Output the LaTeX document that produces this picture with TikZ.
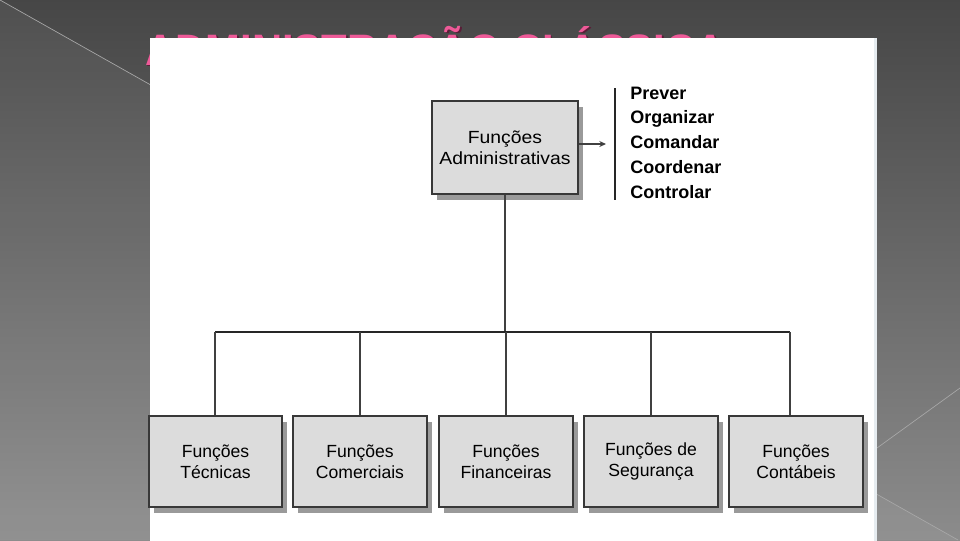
\documentclass[tikz,border=0pt]{standalone}
\usepackage{fontspec}
\setmainfont{Liberation Sans}
\usetikzlibrary{arrows.meta,calc,shadows}
\definecolor{bgtop}{HTML}{464646}
\definecolor{bgbot}{HTML}{8C8C8C}
\definecolor{titlepink}{HTML}{EE5A98}
\definecolor{titleshadow}{HTML}{5A1E38}
\definecolor{boxfill}{HTML}{DCDCDC}
\definecolor{shadowgray}{HTML}{9A9A9A}
\definecolor{edgeblue}{HTML}{E6ECF0}
\definecolor{bgline}{HTML}{A8A8A8}
\begin{document}
\begin{tikzpicture}[x=0.75pt,y=-0.75pt,
  fbox/.style={draw=black!78, line width=0.9pt, fill=boxfill,
    minimum width=#1*0.75pt, minimum height=91*0.75pt, inner sep=0pt,
    align=center, font=\fontsize{13.2}{15.5}\selectfont,
    drop shadow={shadow xshift=3.9pt, shadow yshift=-4.5pt, fill=shadowgray, opacity=1}},
  listitem/.style={anchor=base west, inner sep=0pt, font=\fontsize{13.5}{16}\selectfont\bfseries},
  conn/.style={draw=black!75, line width=1.1pt},
  bar/.style={draw=black!85, line width=1.5pt}
]
\useasboundingbox (0,0) rectangle (960,540);
% background
\shade[top color=bgtop, bottom color=bgbot] (-2,-2) rectangle (962,542);
\fill[white, opacity=0.05] (0,0) -- (958,540) -- (0,540) -- cycle;
\draw[bgline, line width=0.5pt] (0,0) -- (958,540);
\draw[bgline, line width=0.5pt] (841,474) -- (960,388);
% title (mostly hidden by the panel)
\node[anchor=base west, inner sep=0pt, text=titleshadow, font=\fontsize{33}{36}\selectfont\bfseries]
  at (146.5,66) {\scalebox{0.95}[1]{ADMINISTRAÇÃO CLÁSSICA}};
\node (title) [anchor=base west, inner sep=0pt, text=titlepink, font=\fontsize{33}{36}\selectfont\bfseries]
  at (145,65) {\scalebox{0.95}[1]{ADMINISTRAÇÃO CLÁSSICA}};
% white panel
\fill[white] (150,38) rectangle (874,545);
\fill[edgeblue] (874,38) rectangle (877,545);
% top box
\node (top) [fbox=146, minimum height=93*0.75pt] at (505,147.5)
  {\scalebox{1.1}[1]{Funções}\\\scalebox{1.1}[1]{Administrativas}};
% list
\node (l1) [listitem] at (630,99) {Prever};
\node (l2) [listitem] at (630,123) {Organizar};
\node (l3) [listitem] at (630,148) {Comandar};
\node (l4) [listitem] at (630,173) {Coordenar};
\node (l5) [listitem] at (630,198) {Controlar};
\coordinate (bartop) at (615,88);
\coordinate (barbot) at (615,200);
\draw[bar] (bartop) -- (barbot);
\coordinate (arr) at (606,144);
\draw[conn, line width=0.9pt, -{Stealth[length=5pt,width=4.5pt]}] (top.east |- arr) -- (arr);
% bottom boxes
\node (b1) [fbox=133] at (215.5,461.5) {Funções\\Técnicas};
\node (b2) [fbox=134] at (360,461.5) {Funções\\Comerciais};
\node (b3) [fbox=134] at (506,461.5) {Funções\\Financeiras};
\node (b4) [fbox=134] at (651,461.5) {Funções de\\Segurança};
\node (b5) [fbox=134] at (796,461.5) {\raisebox{-3pt}{Funções}\\\raisebox{-3pt}{Contábeis}};
% tree connectors
\coordinate (hL) at (215,332);
\coordinate (hR) at (790,332);
\draw[conn] (top.south) -- (top.south |- hL);
\draw[bar] (hL) -- (hR);
\draw[conn] (hL) -- (hL |- b1.north);
\draw[conn] (b2.north |- hL) -- (b2.north);
\draw[conn] (b3.north |- hL) -- (b3.north);
\draw[conn] (b4.north |- hL) -- (b4.north);
\draw[conn] (hR) -- (hR |- b5.north);
\end{tikzpicture}
\end{document}
